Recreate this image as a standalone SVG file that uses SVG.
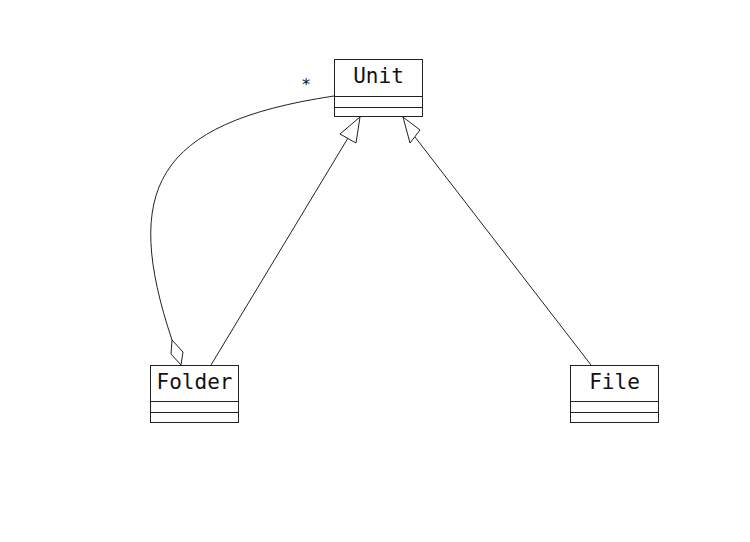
<svg xmlns="http://www.w3.org/2000/svg" width="750" height="542" viewBox="0 0 750 542">
  <style>
    .box { fill: #ffffff; stroke: #222222; stroke-width: 1; }
    .div { stroke: #222222; stroke-width: 1; }
    .name { font-family: "DejaVu Sans Mono", "Liberation Mono", monospace; font-size: 21px; fill: #111111; text-anchor: middle; }
    .edge { fill: none; stroke: #222222; stroke-width: 1; }
    .head { fill: #ffffff; stroke: #222222; stroke-width: 1; }
    .mult { font-family: "DejaVu Sans Mono", "Liberation Mono", monospace; font-size: 16px; fill: #111111; text-anchor: middle; }
  </style>
  <rect width="750" height="542" fill="#ffffff"/>

  <g id="connectors">
    <!-- aggregation: Folder (whole) to Unit (parts) -->
    <path class="edge" d="M334,96 C154,123 122,190 172,340"/>
    <polygon class="head" points="181,365 183,352 172,340 171,354"/>
    <text class="mult" x="306" y="90">*</text>
    <!-- generalization: Folder -> Unit -->
    <line class="edge" x1="211" y1="365" x2="348" y2="138"/>
    <polygon class="head" points="360,117 340,134 356,143"/>
    <!-- generalization: File -> Unit -->
    <line class="edge" x1="591" y1="365" x2="415" y2="137"/>
    <polygon class="head" points="403,117 420,130 410,143"/>
  </g>

  <g id="unit">
    <rect class="box" x="334.5" y="59.5" width="88" height="57"/>
    <line class="div" x1="334.5" y1="96.5" x2="422.5" y2="96.5"/>
    <line class="div" x1="334.5" y1="107.5" x2="422.5" y2="107.5"/>
    <text class="name" x="378.5" y="83">Unit</text>
  </g>

  <g id="folder">
    <rect class="box" x="150.5" y="365.5" width="88" height="57"/>
    <line class="div" x1="150.5" y1="401.5" x2="238.5" y2="401.5"/>
    <line class="div" x1="150.5" y1="412.5" x2="238.5" y2="412.5"/>
    <text class="name" x="194.5" y="389">Folder</text>
  </g>

  <g id="file">
    <rect class="box" x="570.5" y="365.5" width="88" height="57"/>
    <line class="div" x1="570.5" y1="401.5" x2="658.5" y2="401.5"/>
    <line class="div" x1="570.5" y1="412.5" x2="658.5" y2="412.5"/>
    <text class="name" x="614.5" y="389">File</text>
  </g>
</svg>
